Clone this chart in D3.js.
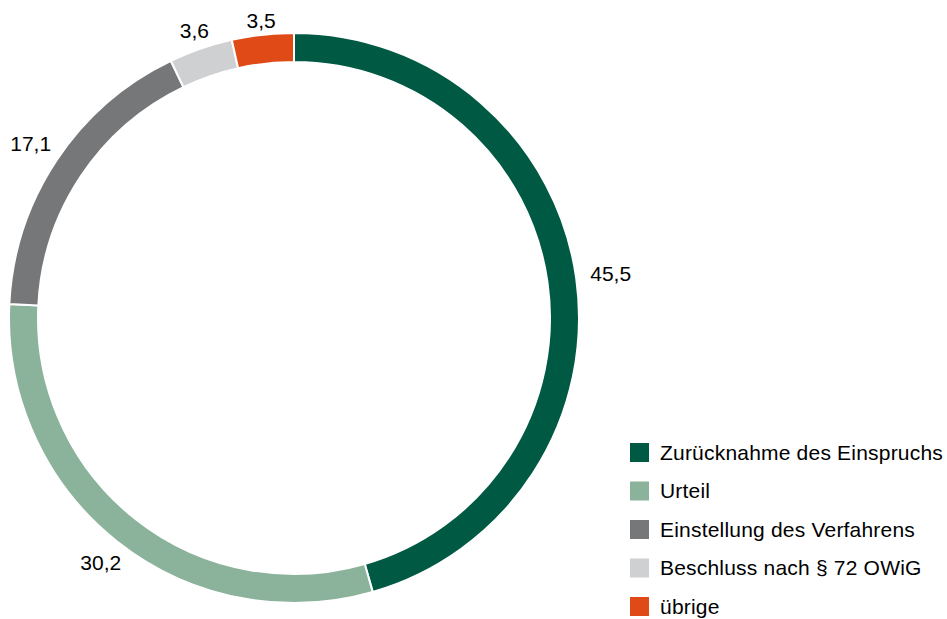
<!DOCTYPE html>
<html>
<head>
<meta charset="utf-8">
<script src="https://cdn.jsdelivr.net/npm/d3@7"></script>
<style>
  body { margin: 0; background: #fff; }
  text { font-family: "Liberation Sans", Arial, sans-serif; fill: #000; }
</style>
</head>
<body>
<div id="chart_root"></div>
<script>
// data
const categories = ["Zurücknahme des Einspruchs", "Urteil", "Einstellung des Verfahrens",
    "Beschluss nach § 72 OWiG", "übrige"];
const values = [45.5, 30.2, 17.1, 3.6, 3.5];
const valueLabels = ["45,5", "30,2", "17,1", "3,6", "3,5"];
const colors = ["#005a43", "#8bb39b", "#767779", "#cfd0d2", "#e04a17"];

const width = 947, height = 619;
const cx = 294, cy = 318;
const rOuter = 285, rInner = 256;
const fontSize = "21px";

const svg = d3.select("#chart_root")
    .append("svg")
    .attr("width", width)
    .attr("height", height);

const data = categories.map((c, i) => ({ cat: c, value: values[i], label: valueLabels[i], color: colors[i] }));

const pie = d3.pie()
    .sort(null)
    .value(d => d.value);
const arcs = pie(data);

const arc = d3.arc()
    .innerRadius(rInner)
    .outerRadius(rOuter);

const g = svg.append("g")
    .attr("transform", "translate(" + cx + "," + cy + ")");

g.selectAll("path")
    .data(arcs)
    .enter()
    .append("path")
    .attr("d", arc)
    .attr("fill", d => d.data.color)
    .attr("stroke", "#fff")
    .attr("stroke-width", 2);

// labels outside the ring
g.selectAll("text.lbl")
    .data(arcs)
    .enter()
    .append("text")
    .attr("class", "lbl")
    .attr("text-anchor", "middle")
    .attr("dominant-baseline", "central")
    .style("font-size", fontSize)
    .attr("transform", d => {
        const a = (d.startAngle + d.endAngle) / 2;
        const r = 297 + 23 * Math.abs(Math.sin(a));
        return "translate(" + (r * Math.sin(a)) + "," + (-r * Math.cos(a)) + ")";
    })
    .text(d => d.data.label);

// legend
const legend = svg.append("g")
    .attr("transform", "translate(630,443)");

const row = legend.selectAll("g")
    .data(data)
    .enter()
    .append("g")
    .attr("transform", (d, i) => "translate(0," + (i * 38.5) + ")");

row.append("rect")
    .attr("width", 19)
    .attr("height", 19)
    .attr("fill", d => d.color);

row.append("text")
    .attr("x", 30)
    .attr("y", 16.5)
    .style("font-size", fontSize)
    .style("letter-spacing", "0.2px")
    .text(d => d.cat);
</script>
</body>
</html>
